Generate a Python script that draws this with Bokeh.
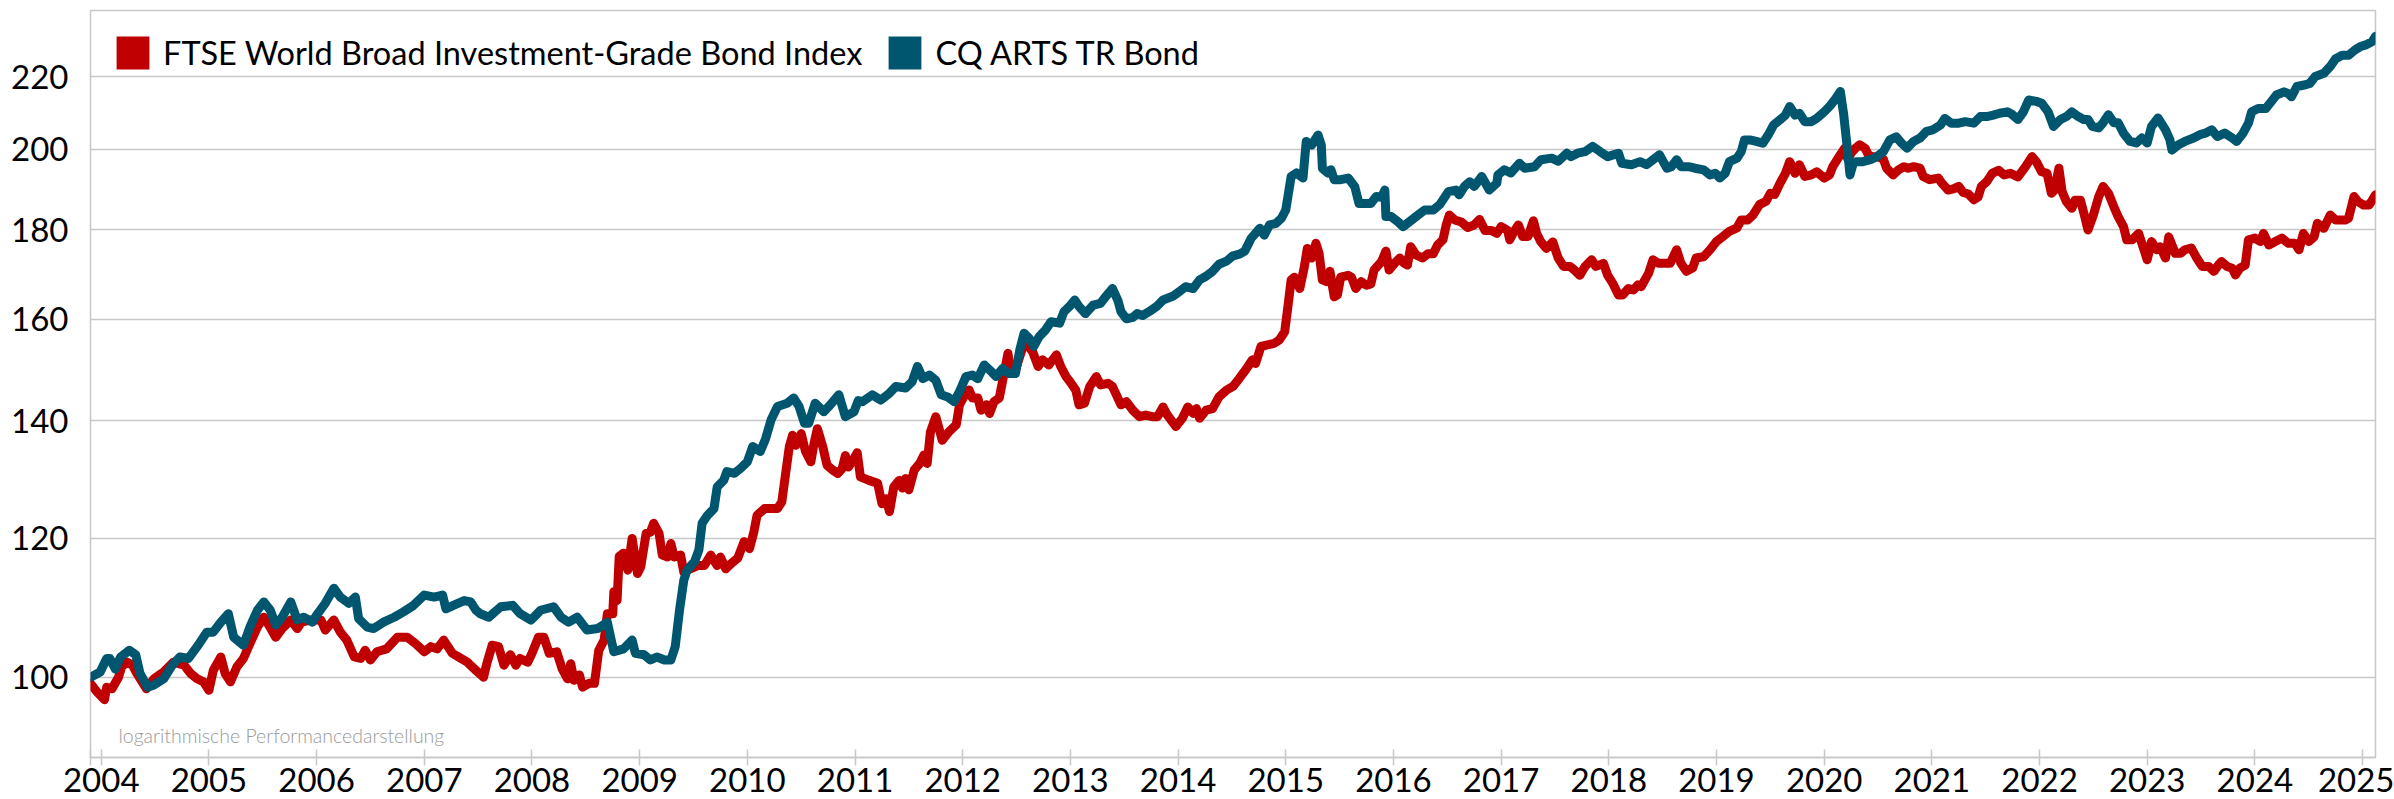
from bokeh.plotting import figure
from bokeh.models import (Range1d, FixedTicker, PrintfTickFormatter, Legend,
                          LegendItem, Label, ColumnDataSource)
from bokeh.embed import file_html
from bokeh.resources import INLINE

series_names = ["FTSE World Broad Investment-Grade Bond Index", "CQ ARTS TR Bond"]
series_colors = ["#C00000", "#00566F"]
year_ticks = list(range(2004, 2026))
value_ticks = [100, 120, 140, 160, 180, 200, 220]
note_text = "logarithmische Performancedarstellung"

ftse_years = [
    2003.90, 2003.96, 2004.03, 2004.05, 2004.10, 2004.16, 2004.19, 2004.24, 2004.29, 2004.33,
    2004.42, 2004.49, 2004.58, 2004.67, 2004.77, 2004.83, 2004.89, 2004.95, 2005.00, 2005.04,
    2005.11, 2005.15, 2005.20, 2005.26, 2005.32, 2005.38, 2005.45, 2005.51, 2005.56, 2005.62,
    2005.68, 2005.76, 2005.82, 2005.86, 2005.94, 2006.04, 2006.08, 2006.16, 2006.22, 2006.28,
    2006.35, 2006.41, 2006.45, 2006.50, 2006.56, 2006.65, 2006.75, 2006.84, 2006.92, 2007.00,
    2007.06, 2007.12, 2007.18, 2007.26, 2007.34, 2007.40, 2007.48, 2007.55, 2007.58, 2007.63,
    2007.69, 2007.74, 2007.80, 2007.85, 2007.89, 2007.96, 2008.00, 2008.06, 2008.11, 2008.16,
    2008.23, 2008.28, 2008.33, 2008.36, 2008.39, 2008.44, 2008.47, 2008.53, 2008.58, 2008.62,
    2008.67, 2008.70, 2008.75, 2008.76, 2008.79, 2008.81, 2008.85, 2008.89, 2008.93, 2008.98,
    2009.01, 2009.06, 2009.10, 2009.13, 2009.18, 2009.21, 2009.26, 2009.29, 2009.32, 2009.38,
    2009.41, 2009.47, 2009.54, 2009.60, 2009.66, 2009.72, 2009.75, 2009.80, 2009.85, 2009.91,
    2009.97, 2010.02, 2010.06, 2010.09, 2010.16, 2010.22, 2010.28, 2010.32, 2010.36, 2010.39,
    2010.42, 2010.45, 2010.50, 2010.54, 2010.59, 2010.62, 2010.65, 2010.70, 2010.74, 2010.79,
    2010.84, 2010.88, 2010.91, 2010.94, 2010.99, 2011.02, 2011.05, 2011.13, 2011.21, 2011.25,
    2011.29, 2011.32, 2011.36, 2011.41, 2011.44, 2011.47, 2011.50, 2011.55, 2011.60, 2011.64,
    2011.67, 2011.70, 2011.75, 2011.81, 2011.87, 2011.94, 2011.97, 2012.01, 2012.06, 2012.09,
    2012.14, 2012.17, 2012.22, 2012.25, 2012.29, 2012.34, 2012.39, 2012.42, 2012.45, 2012.49,
    2012.56, 2012.60, 2012.65, 2012.70, 2012.74, 2012.80, 2012.87, 2012.91, 2012.96, 2013.00,
    2013.05, 2013.08, 2013.13, 2013.18, 2013.24, 2013.28, 2013.35, 2013.39, 2013.47, 2013.52,
    2013.58, 2013.64, 2013.70, 2013.76, 2013.81, 2013.86, 2013.90, 2013.98, 2014.04, 2014.09,
    2014.14, 2014.17, 2014.20, 2014.26, 2014.32, 2014.38, 2014.45, 2014.51, 2014.57, 2014.63,
    2014.69, 2014.72, 2014.77, 2014.83, 2014.89, 2014.94, 2014.99, 2015.02, 2015.05, 2015.08,
    2015.13, 2015.17, 2015.20, 2015.24, 2015.28, 2015.31, 2015.34, 2015.38, 2015.41, 2015.45,
    2015.48, 2015.51, 2015.58, 2015.61, 2015.65, 2015.70, 2015.75, 2015.79, 2015.82, 2015.89,
    2015.93, 2015.96, 2016.01, 2016.06, 2016.10, 2016.13, 2016.16, 2016.21, 2016.27, 2016.32,
    2016.37, 2016.41, 2016.46, 2016.49, 2016.52, 2016.57, 2016.63, 2016.69, 2016.75, 2016.80,
    2016.85, 2016.91, 2016.96, 2017.00, 2017.06, 2017.08, 2017.11, 2017.16, 2017.20, 2017.25,
    2017.30, 2017.33, 2017.37, 2017.42, 2017.48, 2017.53, 2017.58, 2017.64, 2017.68, 2017.73,
    2017.78, 2017.84, 2017.88, 2017.95, 2017.99, 2018.04, 2018.09, 2018.13, 2018.18, 2018.23,
    2018.27, 2018.30, 2018.37, 2018.41, 2018.46, 2018.50, 2018.57, 2018.63, 2018.67, 2018.72,
    2018.78, 2018.81, 2018.88, 2018.94, 2019.00, 2019.06, 2019.12, 2019.19, 2019.23, 2019.29,
    2019.34, 2019.40, 2019.46, 2019.50, 2019.54, 2019.59, 2019.64, 2019.68, 2019.73, 2019.77,
    2019.82, 2019.88, 2019.93, 2020.00, 2020.05, 2020.08, 2020.15, 2020.19, 2020.22, 2020.25,
    2020.29, 2020.33, 2020.38, 2020.41, 2020.44, 2020.50, 2020.55, 2020.58, 2020.64, 2020.69,
    2020.74, 2020.78, 2020.83, 2020.89, 2020.92, 2020.98, 2021.06, 2021.09, 2021.15, 2021.20,
    2021.25, 2021.29, 2021.34, 2021.39, 2021.43, 2021.46, 2021.51, 2021.56, 2021.62, 2021.67,
    2021.73, 2021.80, 2021.87, 2021.93, 2021.97, 2022.02, 2022.07, 2022.11, 2022.14, 2022.18,
    2022.21, 2022.25, 2022.30, 2022.33, 2022.38, 2022.42, 2022.45, 2022.50, 2022.55, 2022.59,
    2022.64, 2022.69, 2022.73, 2022.78, 2022.81, 2022.86, 2022.92, 2022.97, 2023.00, 2023.04,
    2023.09, 2023.12, 2023.17, 2023.20, 2023.26, 2023.31, 2023.35, 2023.41, 2023.46, 2023.51,
    2023.57, 2023.62, 2023.66, 2023.69, 2023.74, 2023.79, 2023.82, 2023.86, 2023.91, 2023.94,
    2024.00, 2024.05, 2024.08, 2024.13, 2024.19, 2024.25, 2024.31, 2024.37, 2024.41, 2024.45,
    2024.50, 2024.55, 2024.58, 2024.64, 2024.70, 2024.75, 2024.81, 2024.84, 2024.87, 2024.92,
    2024.96, 2025.01, 2025.06, 2025.09, 2025.12,
]
ftse_values = [
    99.2, 98.1, 97.1, 98.7, 98.5, 100.0, 101.4, 102.0, 101.6, 100.5,
    98.5, 99.8, 100.7, 102.0, 101.6, 100.5, 99.8, 99.4, 98.3, 100.9,
    102.7, 100.5, 99.4, 101.4, 102.5, 104.5, 106.8, 108.2, 107.0, 105.4,
    106.6, 107.8, 106.6, 107.5, 107.8, 107.8, 106.4, 107.8, 106.1, 105.0,
    102.7, 102.5, 103.6, 102.3, 103.4, 103.8, 105.4, 105.4, 104.5, 103.4,
    104.1, 103.8, 105.0, 103.2, 102.5, 102.0, 100.9, 100.0, 101.8, 104.3,
    104.1, 101.6, 103.0, 101.6, 102.5, 102.0, 103.2, 105.4, 105.4, 103.2,
    103.4, 101.1, 99.8, 101.8, 99.6, 100.3, 98.7, 99.2, 99.2, 103.6,
    105.0, 108.7, 108.7, 111.9, 110.6, 117.2, 117.7, 115.1, 120.0, 114.6,
    115.6, 120.8, 121.0, 122.4, 120.8, 117.4, 117.1, 119.2, 117.1, 117.4,
    114.8, 115.3, 115.8, 115.8, 117.4, 115.8, 117.1, 115.3, 116.1, 116.9,
    119.5, 118.4, 121.0, 123.7, 124.8, 124.8, 124.8, 125.9, 131.3, 135.4,
    137.4, 135.6, 137.7, 134.5, 132.7, 136.0, 138.6, 135.4, 132.1, 131.3,
    130.7, 131.5, 133.8, 131.8, 133.3, 134.3, 130.1, 129.5, 129.0, 125.6,
    126.4, 124.3, 128.4, 129.5, 128.2, 129.8, 127.9, 131.3, 132.4, 133.9,
    132.4, 138.0, 140.8, 136.5, 138.0, 139.3, 143.0, 144.5, 145.8, 144.3,
    144.3, 142.0, 143.0, 141.4, 143.6, 144.3, 149.7, 153.0, 149.0, 149.7,
    154.4, 154.7, 153.3, 150.4, 151.7, 150.7, 152.7, 150.4, 148.4, 147.3,
    145.8, 143.0, 143.3, 146.5, 148.4, 146.8, 147.1, 146.5, 143.0, 143.6,
    142.0, 140.8, 141.1, 140.8, 140.8, 142.6, 141.1, 139.0, 140.5, 142.6,
    141.4, 142.3, 140.5, 142.0, 142.3, 144.5, 145.8, 146.5, 148.1, 149.8,
    151.7, 151.0, 154.4, 154.7, 155.0, 155.7, 157.4, 162.7, 168.5, 169.1,
    166.6, 171.1, 175.6, 173.4, 176.8, 174.4, 168.5, 168.1, 170.4, 164.8,
    165.2, 169.1, 169.5, 169.1, 166.6, 168.1, 167.3, 167.6, 170.7, 172.6,
    175.0, 170.7, 172.2, 173.4, 172.2, 171.8, 176.0, 174.1, 173.4, 174.4,
    174.4, 176.4, 177.6, 181.1, 183.5, 182.3, 181.8, 180.5, 181.1, 182.4,
    179.8, 179.8, 179.1, 180.7, 179.8, 177.6, 179.1, 181.1, 178.4, 178.4,
    182.1, 179.1, 177.1, 175.6, 177.1, 173.4, 171.5, 171.5, 170.7, 169.5,
    171.5, 173.0, 171.5, 172.2, 169.5, 167.6, 165.2, 165.2, 166.6, 166.3,
    167.4, 167.0, 170.0, 173.0, 172.2, 172.2, 172.2, 175.3, 172.2, 170.4,
    171.2, 173.4, 173.7, 175.3, 177.2, 178.4, 179.6, 180.4, 182.3, 182.3,
    183.5, 186.0, 186.8, 188.8, 188.5, 191.3, 193.8, 196.8, 193.8, 196.0,
    193.0, 193.4, 194.2, 192.6, 193.4, 195.5, 198.6, 200.3, 197.4, 199.0,
    200.3, 201.2, 200.3, 198.6, 198.1, 198.1, 197.4, 195.1, 193.4, 194.7,
    195.5, 195.1, 195.5, 195.1, 193.0, 192.2, 192.6, 191.4, 189.6, 189.9,
    190.5, 189.0, 188.6, 187.2, 187.9, 190.5, 191.7, 193.8, 194.6, 193.4,
    193.8, 192.9, 195.5, 198.1, 196.8, 194.2, 193.8, 188.8, 189.6, 195.1,
    189.2, 186.7, 185.1, 187.1, 187.1, 183.1, 179.9, 183.5, 188.0, 190.5,
    188.8, 185.5, 183.1, 180.7, 177.6, 177.6, 179.1, 175.3, 173.0, 177.2,
    175.3, 176.0, 173.4, 178.3, 174.5, 174.5, 175.3, 175.7, 173.4, 171.5,
    171.5, 170.4, 171.8, 172.6, 171.5, 171.1, 169.6, 171.1, 171.8, 177.6,
    178.0, 177.2, 179.1, 176.4, 177.2, 178.0, 176.8, 176.8, 175.3, 179.1,
    177.2, 178.3, 181.5, 180.3, 183.5, 182.3, 182.3, 182.3, 182.7, 188.0,
    186.7, 185.9, 185.9, 187.1, 188.4,
]

cq_years = [
    2003.90, 2003.99, 2004.05, 2004.08, 2004.13, 2004.18, 2004.26, 2004.32, 2004.36, 2004.43,
    2004.49, 2004.58, 2004.66, 2004.73, 2004.81, 2004.89, 2004.98, 2005.04, 2005.11, 2005.18,
    2005.23, 2005.32, 2005.38, 2005.45, 2005.51, 2005.57, 2005.62, 2005.68, 2005.76, 2005.82,
    2005.88, 2005.96, 2006.00, 2006.08, 2006.16, 2006.22, 2006.30, 2006.36, 2006.39, 2006.47,
    2006.53, 2006.62, 2006.72, 2006.81, 2006.90, 2007.00, 2007.09, 2007.17, 2007.20, 2007.27,
    2007.37, 2007.43, 2007.48, 2007.52, 2007.60, 2007.71, 2007.82, 2007.89, 2007.99, 2008.08,
    2008.20, 2008.27, 2008.34, 2008.42, 2008.51, 2008.61, 2008.70, 2008.73, 2008.76, 2008.85,
    2008.93, 2008.96, 2009.04, 2009.10, 2009.16, 2009.23, 2009.29, 2009.33, 2009.37, 2009.41,
    2009.44, 2009.51, 2009.55, 2009.58, 2009.63, 2009.69, 2009.72, 2009.78, 2009.81, 2009.88,
    2009.94, 2010.00, 2010.05, 2010.12, 2010.17, 2010.22, 2010.28, 2010.37, 2010.43, 2010.48,
    2010.53, 2010.57, 2010.63, 2010.71, 2010.77, 2010.85, 2010.91, 2010.99, 2011.03, 2011.07,
    2011.16, 2011.24, 2011.32, 2011.38, 2011.47, 2011.53, 2011.58, 2011.63, 2011.69, 2011.75,
    2011.80, 2011.86, 2011.92, 2011.97, 2012.03, 2012.09, 2012.14, 2012.20, 2012.25, 2012.31,
    2012.37, 2012.43, 2012.49, 2012.53, 2012.57, 2012.62, 2012.66, 2012.71, 2012.77, 2012.82,
    2012.90, 2012.94, 2012.99, 2013.04, 2013.08, 2013.14, 2013.21, 2013.28, 2013.33, 2013.39,
    2013.44, 2013.47, 2013.52, 2013.58, 2013.62, 2013.67, 2013.73, 2013.80, 2013.86, 2013.95,
    2014.01, 2014.07, 2014.14, 2014.20, 2014.26, 2014.32, 2014.38, 2014.45, 2014.51, 2014.57,
    2014.62, 2014.68, 2014.76, 2014.80, 2014.85, 2014.91, 2014.96, 2015.00, 2015.05, 2015.10,
    2015.16, 2015.19, 2015.24, 2015.30, 2015.33, 2015.34, 2015.39, 2015.42, 2015.45, 2015.51,
    2015.58, 2015.64, 2015.68, 2015.73, 2015.79, 2015.84, 2015.89, 2015.92, 2015.93, 2015.98,
    2016.04, 2016.09, 2016.15, 2016.23, 2016.29, 2016.37, 2016.43, 2016.51, 2016.58, 2016.61,
    2016.66, 2016.71, 2016.75, 2016.82, 2016.89, 2016.96, 2016.97, 2017.03, 2017.09, 2017.17,
    2017.22, 2017.31, 2017.37, 2017.47, 2017.53, 2017.61, 2017.65, 2017.71, 2017.78, 2017.85,
    2017.92, 2017.99, 2018.09, 2018.12, 2018.21, 2018.29, 2018.35, 2018.43, 2018.47, 2018.54,
    2018.58, 2018.63, 2018.67, 2018.74, 2018.80, 2018.88, 2018.94, 2018.99, 2019.03, 2019.08,
    2019.12, 2019.19, 2019.23, 2019.26, 2019.31, 2019.37, 2019.43, 2019.48, 2019.53, 2019.59,
    2019.64, 2019.68, 2019.73, 2019.77, 2019.82, 2019.88, 2019.93, 2020.00, 2020.05, 2020.10,
    2020.15, 2020.18, 2020.21, 2020.24, 2020.27, 2020.30, 2020.36, 2020.43, 2020.49, 2020.55,
    2020.61, 2020.67, 2020.72, 2020.77, 2020.83, 2020.89, 2020.95, 2021.01, 2021.08, 2021.12,
    2021.18, 2021.25, 2021.31, 2021.39, 2021.45, 2021.51, 2021.57, 2021.63, 2021.70, 2021.74,
    2021.80, 2021.85, 2021.90, 2021.97, 2022.02, 2022.08, 2022.13, 2022.19, 2022.25, 2022.30,
    2022.36, 2022.41, 2022.45, 2022.49, 2022.55, 2022.59, 2022.64, 2022.69, 2022.73, 2022.78,
    2022.84, 2022.90, 2022.95, 2023.00, 2023.04, 2023.10, 2023.17, 2023.21, 2023.23, 2023.29,
    2023.35, 2023.43, 2023.49, 2023.54, 2023.60, 2023.65, 2023.72, 2023.79, 2023.83, 2023.89,
    2023.94, 2023.97, 2024.03, 2024.10, 2024.14, 2024.20, 2024.27, 2024.31, 2024.34, 2024.39,
    2024.47, 2024.51, 2024.56, 2024.64, 2024.70, 2024.75, 2024.81, 2024.87, 2024.93, 2024.98,
    2025.03, 2025.09, 2025.12,
]
cq_values = [
    100.0, 100.7, 102.5, 102.5, 101.1, 102.7, 103.6, 103.0, 100.5, 98.7,
    99.0, 99.8, 101.6, 102.7, 102.5, 104.1, 106.1, 106.1, 107.5, 108.7,
    105.4, 104.3, 106.8, 109.2, 110.4, 109.2, 107.1, 108.2, 110.4, 107.8,
    108.2, 107.5, 108.5, 110.2, 112.4, 111.1, 110.2, 111.1, 108.0, 106.8,
    106.6, 107.5, 108.2, 109.0, 109.9, 111.4, 111.1, 111.4, 109.4, 109.9,
    110.6, 110.4, 109.2, 108.7, 108.2, 109.7, 109.9, 108.7, 107.8, 109.2,
    109.7, 108.2, 107.5, 108.2, 106.4, 106.6, 107.5, 105.4, 103.4, 103.8,
    105.0, 103.2, 103.0, 102.3, 102.7, 102.3, 102.3, 104.1, 109.2, 113.6,
    115.1, 116.4, 118.2, 122.4, 123.7, 124.8, 128.4, 129.5, 131.0, 130.7,
    131.6, 132.7, 135.4, 134.5, 136.8, 140.2, 142.7, 143.3, 144.3, 142.7,
    139.6, 139.6, 143.3, 141.7, 143.0, 144.9, 140.8, 141.7, 143.8, 143.6,
    144.9, 143.9, 145.2, 146.5, 146.2, 147.4, 150.4, 148.0, 148.7, 147.7,
    144.9, 144.5, 143.6, 145.5, 148.4, 148.7, 148.0, 150.7, 149.7, 148.4,
    150.0, 149.0, 149.0, 153.7, 157.1, 156.0, 154.4, 156.4, 157.8, 159.5,
    159.2, 161.6, 162.7, 164.1, 162.7, 161.2, 163.0, 163.4, 164.9, 166.6,
    164.1, 161.6, 160.1, 160.4, 161.2, 160.8, 161.6, 162.7, 164.1, 164.9,
    165.9, 167.0, 166.6, 168.5, 169.3, 170.4, 172.0, 172.7, 173.9, 174.3,
    175.0, 178.0, 180.3, 178.7, 181.1, 181.5, 182.7, 184.7, 193.0, 193.9,
    192.6, 202.1, 201.1, 203.8, 201.1, 195.1, 193.9, 194.7, 192.2, 192.2,
    192.6, 190.5, 186.3, 186.3, 186.3, 188.0, 187.8, 189.6, 183.1, 183.1,
    181.9, 180.7, 181.9, 183.5, 184.7, 184.7, 186.0, 189.2, 189.6, 188.4,
    190.5, 191.7, 190.5, 193.0, 189.6, 191.3, 193.4, 194.7, 193.9, 196.4,
    195.1, 195.5, 197.3, 197.7, 196.9, 199.0, 198.1, 199.0, 199.4, 200.8,
    199.4, 198.1, 199.0, 196.4, 196.0, 196.8, 196.0, 197.7, 198.6, 195.1,
    195.5, 197.3, 195.5, 195.5, 195.1, 194.7, 193.4, 193.8, 192.6, 193.8,
    196.8, 197.7, 199.4, 202.5, 202.5, 202.1, 201.6, 203.8, 206.5, 207.9,
    209.2, 211.6, 209.2, 209.7, 207.4, 207.4, 208.3, 210.1, 211.6, 213.5,
    215.8, 209.7, 201.6, 193.4, 196.4, 196.8, 196.8, 197.3, 198.1, 199.4,
    202.5, 203.3, 201.6, 200.3, 202.1, 203.0, 204.8, 205.2, 206.5, 208.3,
    207.0, 207.0, 207.4, 207.0, 208.8, 208.8, 209.2, 209.7, 210.1, 209.5,
    208.0, 210.1, 213.4, 213.0, 212.5, 210.1, 206.1, 207.9, 208.8, 210.1,
    208.8, 208.0, 208.0, 206.1, 205.7, 207.1, 209.3, 207.1, 207.1, 204.3,
    202.1, 201.7, 203.0, 201.7, 206.1, 208.4, 205.2, 202.6, 199.8, 201.2,
    202.1, 203.0, 203.9, 204.3, 205.2, 203.4, 204.3, 203.0, 202.1, 204.3,
    207.0, 210.1, 211.0, 211.0, 212.5, 214.8, 215.7, 215.2, 214.3, 217.2,
    217.7, 218.1, 220.1, 221.0, 223.0, 225.3, 226.3, 226.3, 227.9, 228.9,
    229.4, 230.4, 232.0,
]

GRID = "#c8c8c8"
FONT = "Lato"
NAN = float("nan")

x_start = min(ftse_years[0], cq_years[0])
x_end = max(ftse_years[-1], cq_years[-1])

p = figure(width=2394, height=799, output_backend="svg", toolbar_location=None,
           y_axis_type="log",
           x_range=Range1d(x_start, x_end), y_range=Range1d(90, 240),
           min_border_left=90, min_border_right=19, min_border_top=10,
           min_border_bottom=42)
p.background_fill_color = "white"
p.border_fill_color = "white"
p.outline_line_color = GRID
p.outline_line_width = 1.5

src_ftse = ColumnDataSource(dict(x=ftse_years, y=ftse_values))
src_cq = ColumnDataSource(dict(x=cq_years, y=cq_values))

r_ftse = p.line("x", "y", source=src_ftse, line_color=series_colors[0], line_width=9,
                line_join="round", line_cap="round")
r_cq = p.line("x", "y", source=src_cq, line_color=series_colors[1], line_width=9,
              line_join="round", line_cap="round")

# legend swatches: one undefined row each, so they show only inside the legend
sw_ftse = p.quad(left=[NAN], right=[NAN], top=[NAN], bottom=[NAN],
                 fill_color=series_colors[0], line_color=None)
sw_cq = p.quad(left=[NAN], right=[NAN], top=[NAN], bottom=[NAN],
               fill_color=series_colors[1], line_color=None)

legend = Legend(items=[LegendItem(label=series_names[0], renderers=[sw_ftse]),
                       LegendItem(label=series_names[1], renderers=[sw_cq])],
                location="top_left", orientation="horizontal",
                glyph_width=41, glyph_height=41, label_standoff=10, spacing=22,
                margin=22, padding=0,
                label_text_font=FONT, label_text_font_size="32.5px",
                label_text_color="#000000",
                border_line_color=None, background_fill_alpha=0)
p.add_layout(legend)

# x axis
xa = p.xaxis[0]
xa.ticker = FixedTicker(ticks=year_ticks, minor_ticks=[x_start])
xa.formatter = PrintfTickFormatter(format="%d")
xa.axis_line_color = GRID
xa.axis_line_width = 1.5
xa.major_tick_line_color = GRID
xa.major_tick_line_width = 1.5
xa.major_tick_in = 8
xa.major_tick_out = 8
xa.minor_tick_line_color = GRID
xa.minor_tick_line_width = 1.5
xa.minor_tick_in = 8
xa.minor_tick_out = 8
xa.major_label_standoff = 2
xa.major_label_text_font = FONT
xa.major_label_text_font_size = "33px"
xa.major_label_text_color = "#000000"

# y axis
ya = p.yaxis[0]
ya.ticker = FixedTicker(ticks=value_ticks)
ya.formatter = PrintfTickFormatter(format="%d")
ya.axis_line_color = None
ya.major_tick_line_color = None
ya.minor_tick_line_color = None
ya.major_tick_in = 0
ya.major_tick_out = 0
ya.major_label_standoff = 22
ya.major_label_text_font = FONT
ya.major_label_text_font_size = "33px"
ya.major_label_text_color = "#000000"

p.xgrid.grid_line_color = None
p.ygrid.grid_line_color = GRID
p.ygrid.grid_line_width = 1.5

note = Label(x=28, y=22, x_units="screen", y_units="screen", text=note_text,
             text_font="Lato Light", text_font_size="19.5px",
             text_color="#9a9a9a", text_baseline="alphabetic")
p.add_layout(note)

open("out.html", "w").write(file_html(p, INLINE))
